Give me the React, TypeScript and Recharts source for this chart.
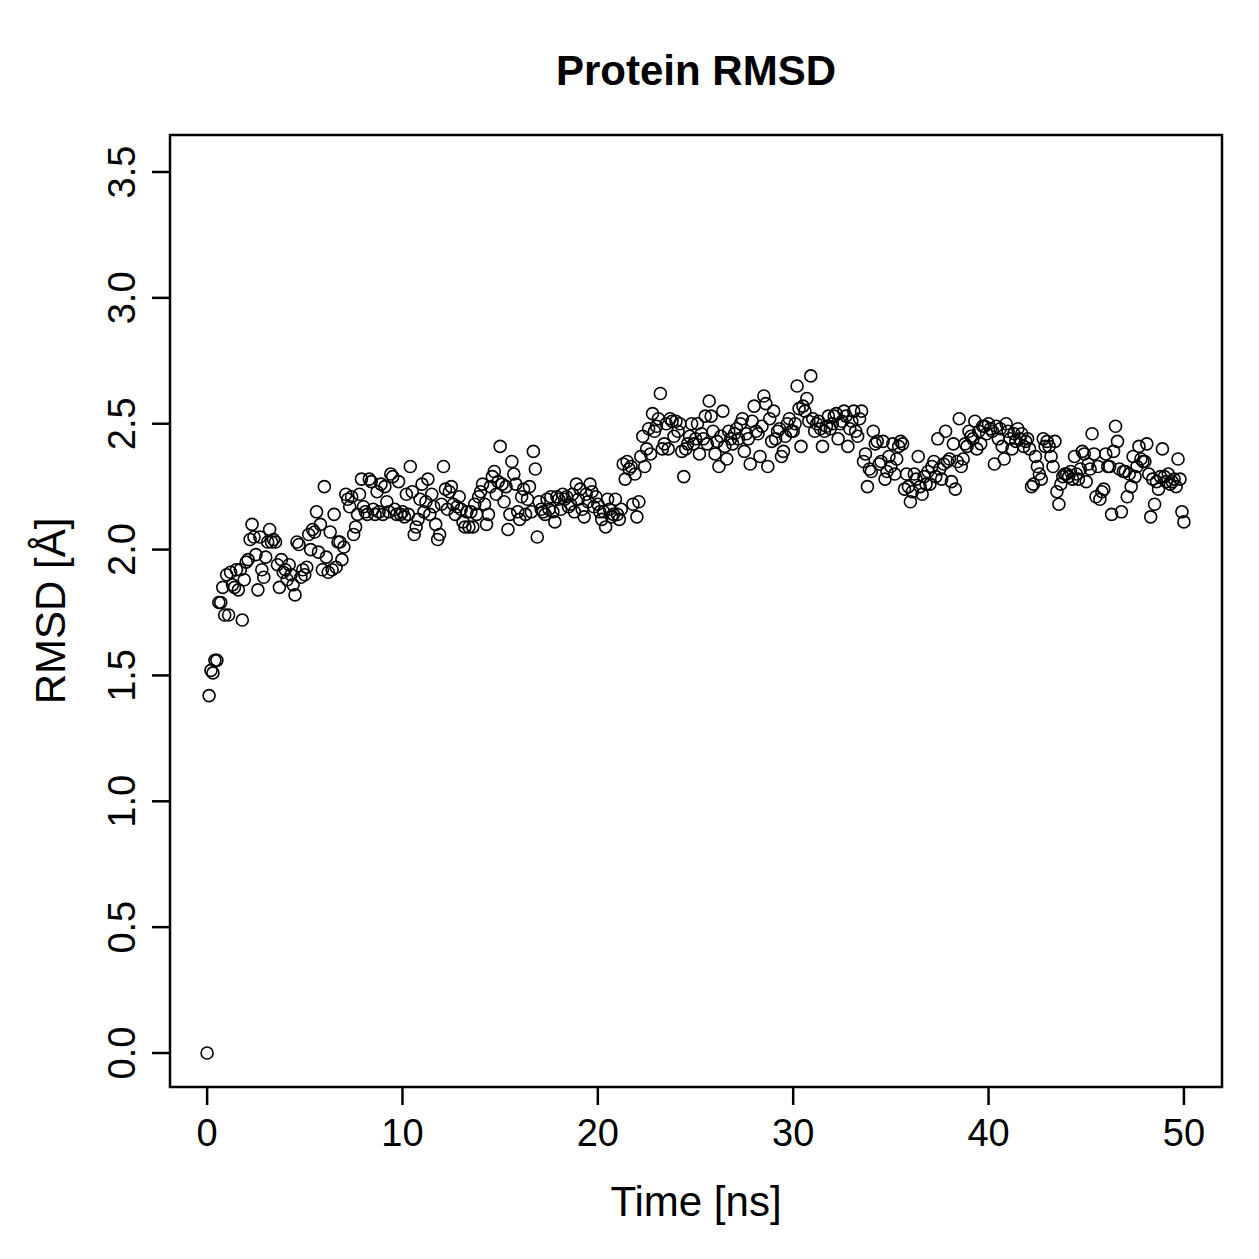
import React from "react";
import {
  ReferenceArea,
  Scatter,
  ScatterChart,
  XAxis,
  YAxis,
} from "recharts";

const FONT = "'Liberation Sans', Arial, Helvetica, sans-serif";

// sampling interval of the trajectory (ns)
const STEP = 0.1;

// RMSD in Å, one row per nanosecond (10 frames each), plus the final frame at 50 ns
const rmsd = [
  0.0, 1.42, 1.52, 1.51, 1.56, 1.56, 1.79, 1.79, 1.85, 1.74,
  1.9, 1.74, 1.91, 1.86, 1.85, 1.92, 1.84, 1.92, 1.72, 1.88,
  1.95, 1.96, 2.04, 2.1, 2.05, 1.98, 1.84, 2.05, 1.92, 1.89,
  1.97, 2.03, 2.08, 2.03, 2.04, 2.03, 1.94, 1.85, 1.96, 1.91,
  1.92, 1.88, 1.94, 1.9, 1.86, 1.82, 2.03, 2.02, 1.89, 1.92,
  1.9, 1.93, 2.06, 2.0, 2.08, 2.07, 2.15, 1.99, 2.1, 1.92,
  2.25, 1.97, 1.91, 2.07, 1.92, 2.14, 1.93, 2.03, 2.03, 1.96,
  2.01, 2.22, 2.2, 2.17, 2.21, 2.06, 2.09, 2.14, 2.22, 2.28,
  2.17, 2.15, 2.14, 2.28, 2.27, 2.16, 2.14, 2.23, 2.15, 2.26,
  2.14, 2.25, 2.19, 2.15, 2.3, 2.29, 2.16, 2.14, 2.27, 2.14,
  2.15, 2.13, 2.22, 2.14, 2.33, 2.23, 2.06, 2.09, 2.12, 2.2,
  2.26, 2.15, 2.19, 2.28, 2.14, 2.22, 2.17, 2.1, 2.04, 2.06,
  2.18, 2.33, 2.24, 2.16, 2.23, 2.25, 2.18, 2.14, 2.17, 2.21,
  2.16, 2.11, 2.09, 2.15, 2.09, 2.15, 2.09, 2.18, 2.14, 2.21,
  2.23, 2.26, 2.18, 2.1, 2.14, 2.25, 2.29, 2.31, 2.22, 2.27,
  2.41, 2.26, 2.19, 2.25, 2.08, 2.14, 2.35, 2.3, 2.26, 2.15,
  2.12, 2.21, 2.24, 2.14, 2.2, 2.25, 2.15, 2.39, 2.32, 2.05,
  2.19, 2.16, 2.15, 2.14, 2.2, 2.16, 2.21, 2.15, 2.11, 2.21,
  2.2, 2.16, 2.22, 2.2, 2.21, 2.17, 2.18, 2.22, 2.15, 2.26,
  2.2, 2.24, 2.16, 2.13, 2.22, 2.19, 2.26, 2.23, 2.17, 2.21,
  2.18, 2.15, 2.12, 2.15, 2.09, 2.2, 2.16, 2.13, 2.14, 2.2,
  2.14, 2.12, 2.16, 2.34, 2.28, 2.35, 2.32, 2.33, 2.18, 2.3,
  2.13, 2.19, 2.37, 2.45, 2.33, 2.4, 2.48, 2.38, 2.54, 2.47,
  2.49, 2.52, 2.62, 2.4, 2.42, 2.5, 2.4, 2.52, 2.51, 2.45,
  2.51, 2.47, 2.5, 2.39, 2.29, 2.4, 2.42, 2.45, 2.5, 2.42,
  2.44, 2.5, 2.38, 2.46, 2.44, 2.53, 2.42, 2.59, 2.53, 2.47,
  2.38, 2.43, 2.33, 2.45, 2.55, 2.41, 2.36, 2.47, 2.44, 2.42,
  2.46, 2.48, 2.44, 2.5, 2.52, 2.39, 2.46, 2.44, 2.34, 2.51,
  2.57, 2.47, 2.46, 2.37, 2.49, 2.61, 2.58, 2.33, 2.52, 2.43,
  2.55, 2.44, 2.47, 2.48, 2.37, 2.39, 2.45, 2.5, 2.52, 2.47,
  2.47, 2.5, 2.65, 2.56, 2.41, 2.57, 2.55, 2.6, 2.51, 2.69,
  2.52, 2.47, 2.5, 2.51, 2.48, 2.41, 2.47, 2.49, 2.53, 2.48,
  2.5, 2.53, 2.54, 2.44, 2.5, 2.51, 2.55, 2.53, 2.41, 2.48,
  2.51, 2.55, 2.47, 2.45, 2.52, 2.55, 2.35, 2.38, 2.25, 2.32,
  2.31, 2.47, 2.42, 2.43, 2.34, 2.35, 2.43, 2.28, 2.31, 2.37,
  2.33, 2.42, 2.3, 2.36, 2.41, 2.43, 2.42, 2.24, 2.3, 2.25,
  2.19, 2.23, 2.3, 2.28, 2.37, 2.25, 2.22, 2.29, 2.26, 2.31,
  2.26, 2.33, 2.35, 2.29, 2.44, 2.32, 2.28, 2.34, 2.47, 2.35,
  2.36, 2.27, 2.42, 2.24, 2.35, 2.52, 2.33, 2.36, 2.42, 2.41,
  2.47, 2.45, 2.44, 2.51, 2.4, 2.47, 2.42, 2.49, 2.49, 2.46,
  2.5, 2.48, 2.47, 2.34, 2.49, 2.44, 2.48, 2.41, 2.36, 2.5,
  2.47, 2.44, 2.4, 2.46, 2.43, 2.48, 2.44, 2.46, 2.41, 2.43,
  2.44, 2.4, 2.25, 2.26, 2.37, 2.33, 2.3, 2.28, 2.44, 2.41,
  2.43, 2.41, 2.37, 2.33, 2.43, 2.23, 2.18, 2.26, 2.29, 2.3,
  2.3, 2.29, 2.31, 2.28, 2.37, 2.3, 2.28, 2.32, 2.39, 2.38,
  2.27, 2.34, 2.32, 2.46, 2.38, 2.21, 2.33, 2.2, 2.23, 2.24,
  2.38, 2.33, 2.33, 2.14, 2.39, 2.49, 2.43, 2.32, 2.15, 2.31,
  2.31, 2.21, 2.3, 2.25, 2.37, 2.29, 2.33, 2.41, 2.36, 2.35,
  2.35, 2.42, 2.3, 2.13, 2.28, 2.18, 2.27, 2.24, 2.29, 2.4,
  2.29, 2.27, 2.3, 2.26, 2.27, 2.28, 2.25, 2.36, 2.28, 2.15,
  2.11,
];

const xTicks = [0, 10, 20, 30, 40, 50];
const yTicks = [0, 0.5, 1, 1.5, 2, 2.5, 3, 3.5];
const xDomain: [number, number] = [-1.9, 51.95];
const yDomain: [number, number] = [-0.135, 3.647];

const points = rmsd.map((v, i) => ({ time: +(i * STEP).toFixed(1), rmsd: v }));

const OpenCircle = (props: any) => (
  <circle cx={props.cx} cy={props.cy} r={6} fill="none" stroke="#000" strokeWidth={1.6} />
);

// y tick labels run parallel to the axis, like base R graphics
const YTick = ({ x, y, payload }: any) => (
  <text
    x={x}
    y={y}
    transform={`rotate(-90 ${x} ${y})`}
    textAnchor="middle"
    fontFamily={FONT}
    fontSize={38}
    fill="#000"
  >
    {Number(payload.value).toFixed(1)}
  </text>
);

const XTitle = () => (
  <text x={696} y={1216} textAnchor="middle" fontFamily={FONT} fontSize={42} fill="#000">
    Time [ns]
  </text>
);

const YTitle = () => (
  <text
    x={65}
    y={611}
    transform="rotate(-90 65 611)"
    textAnchor="middle"
    fontFamily={FONT}
    fontSize={42}
    fill="#000"
  >
    RMSD [Å]
  </text>
);

export default function App() {
  return (
    <div style={{ position: "absolute", left: 0, top: 0, width: 1259, height: 1259, background: "#fff" }}>
      <div
        style={{
          position: "absolute",
          left: 170,
          width: 1052,
          top: 50,
          lineHeight: "42px",
          textAlign: "center",
          fontFamily: FONT,
          fontWeight: "bold",
          fontSize: 42,
        }}
      >
        Protein RMSD
      </div>
      <ScatterChart width={1259} height={1259} margin={{ top: 135, right: 37, left: 0, bottom: 0 }}>
        <XAxis
          type="number"
          dataKey="time"
          domain={xDomain}
          ticks={xTicks}
          allowDataOverflow
          height={172}
          axisLine={false}
          tickLine={{ stroke: "#000", strokeWidth: 2.5 }}
          tickSize={18}
          tickMargin={14}
          tick={{ fill: "#000", fontSize: 38, fontFamily: FONT }}
          label={{ content: XTitle }}
        />
        <YAxis
          type="number"
          dataKey="rmsd"
          domain={yDomain}
          ticks={yTicks}
          allowDataOverflow
          width={170}
          axisLine={false}
          tickLine={{ stroke: "#000", strokeWidth: 2.5 }}
          tickSize={18}
          tickMargin={17}
          tick={<YTick />}
          label={{ content: YTitle }}
        />
        <ReferenceArea
          x1={xDomain[0]}
          x2={xDomain[1]}
          y1={yDomain[0]}
          y2={yDomain[1]}
          fill="none"
          stroke="#000"
          strokeWidth={2.5}
          ifOverflow="visible"
        />
        <Scatter data={points} shape={OpenCircle} isAnimationActive={false} />
      </ScatterChart>
    </div>
  );
}
